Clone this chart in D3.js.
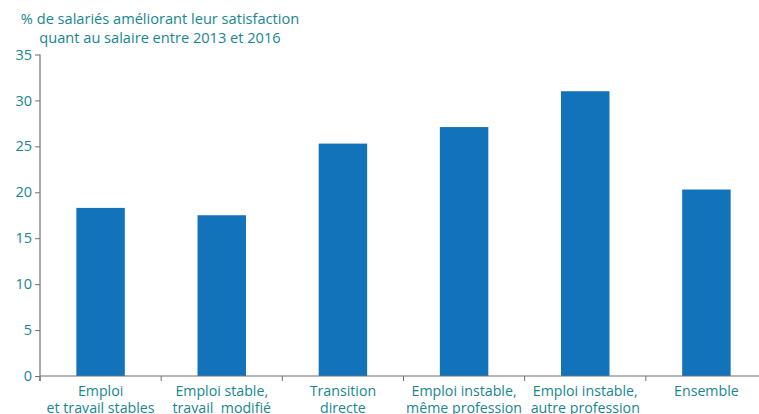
<!DOCTYPE html>
<html><head><meta charset="utf-8">
<script src="https://cdn.jsdelivr.net/npm/d3@7"></script>
<style>
html,body{margin:0;padding:0;background:#fff;}
svg{display:block;font-family:"Open Sans","Noto Sans",sans-serif;}
</style></head>
<body><svg id="c" width="759" height="414"></svg>
<script>
const categories = [
  ["Emploi", "et travail stables"],
  ["Emploi stable,", "travail  modifié"],
  ["Transition", "directe"],
  ["Emploi instable,", "même profession"],
  ["Emploi instable,", "autre profession"],
  ["Ensemble"]
];
const values = [18.3, 17.5, 25.3, 27.1, 31.0, 20.3];
const yTicks = [0, 5, 10, 15, 20, 25, 30, 35];
const titleLines = ["% de salariés améliorant leur satisfaction", "quant au salaire entre 2013 et 2016"];

const teal = "#17868f", barColor = "#1272ba", axisColor = "#6d7278";
const svg = d3.select("#c");
const x = d3.scaleBand().domain(d3.range(categories.length)).range([40, 767]).paddingInner(0.6).paddingOuter(0.3);
const y = d3.scaleLinear().domain([0, 35]).range([376, 54.5]);

// title
svg.append("text").attr("x", 160).attr("y", 24).attr("text-anchor", "middle")
  .attr("fill", teal).attr("font-size", 14.6)
  .selectAll("tspan").data(titleLines).join("tspan")
  .attr("x", 160).attr("dy", (d, i) => i ? 18.5 : 0).text(d => d);

// bars
svg.append("g").selectAll("rect").data(values).join("rect")
  .attr("x", (d, i) => x(i)).attr("width", x.bandwidth())
  .attr("y", d => y(d)).attr("height", d => y(0) - y(d))
  .attr("fill", barColor);

// y axis
const ya = svg.append("g").attr("transform", "translate(40,0)")
  .call(d3.axisLeft(y).tickValues(yTicks).tickSize(5).tickPadding(3));
ya.select(".domain").attr("stroke", axisColor).attr("stroke-width", 1.2).attr("d", `M0,${y(35)}V${y(0)+5}`);
ya.selectAll(".tick line").attr("stroke", axisColor);
ya.selectAll(".tick text").attr("fill", teal).attr("font-size", 14.5).attr("font-family", "\"Open Sans\",sans-serif");

// x axis
const step = x.step();
const bounds = d3.range(categories.length + 1).map(i => 40 + i * step);
svg.append("line").attr("x1", 40).attr("x2", 759).attr("y1", y(0)).attr("y2", y(0))
  .attr("stroke", axisColor).attr("stroke-width", 1.2);
svg.append("g").selectAll("line").data(bounds).join("line")
  .attr("x1", d => d).attr("x2", d => d).attr("y1", y(0)).attr("y2", y(0) + 5)
  .attr("stroke", axisColor);
const xl = svg.append("g").selectAll("text").data(categories).join("text")
  .attr("text-anchor", "middle").attr("fill", teal).attr("font-size", 14.2)
  .attr("y", 396);
xl.selectAll("tspan").data((d, i) => d.map(s => ({s, i}))).join("tspan")
  .attr("x", d => x(d.i) + x.bandwidth() / 2).attr("dy", (d, j) => j ? 17 : 0)
  .attr("xml:space", "preserve").style("white-space", "pre").text(d => d.s);
</script></body></html>
